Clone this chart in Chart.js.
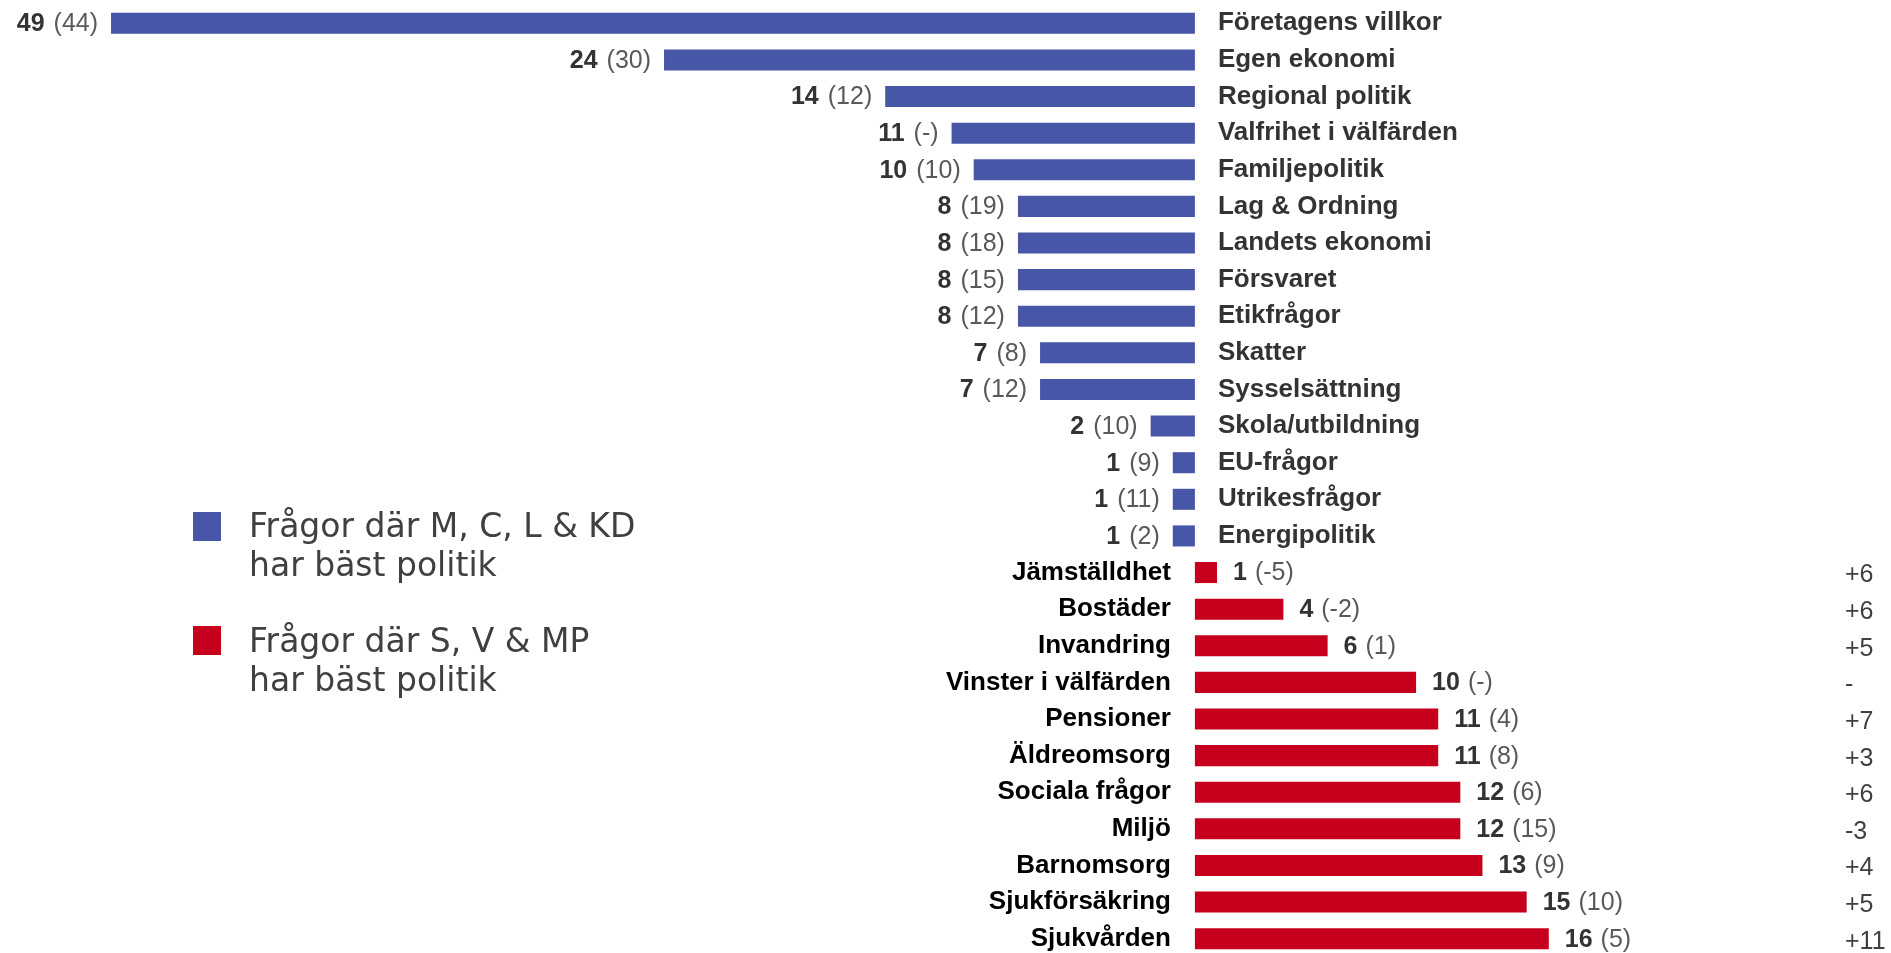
<!DOCTYPE html>
<html>
<head>
<meta charset="utf-8">
<script src="https://cdn.jsdelivr.net/npm/chart.js@4/dist/chart.umd.min.js"></script>
<style>
  html, body { margin: 0; padding: 0; overflow: hidden; background: #ffffff; }
  #wrap { position: absolute; left: 0; top: 0; width: 1891px; height: 957px; }
</style>
</head>
<body>
<div id="wrap"><canvas id="c"></canvas></div>
<script>
// ---- Data ----
const blueCategories = ["Företagens villkor", "Egen ekonomi", "Regional politik", "Valfrihet i välfärden", "Familjepolitik", "Lag & Ordning", "Landets ekonomi", "Försvaret", "Etikfrågor", "Skatter", "Sysselsättning", "Skola/utbildning", "EU-frågor", "Utrikesfrågor", "Energipolitik"];
const blueValues = [49, 24, 14, 11, 10, 8, 8, 8, 8, 7, 7, 2, 1, 1, 1];
const bluePrevious = ["44", "30", "12", "-", "10", "19", "18", "15", "12", "8", "12", "10", "9", "11", "2"];

const redCategories = ["Jämställdhet", "Bostäder", "Invandring", "Vinster i välfärden", "Pensioner", "Äldreomsorg", "Sociala frågor", "Miljö", "Barnomsorg", "Sjukförsäkring", "Sjukvården"];
const redValues = [1, 4, 6, 10, 11, 11, 12, 12, 13, 15, 16];
const redPrevious = ["-5", "-2", "1", "-", "4", "8", "6", "15", "9", "10", "5"];
const redChange = ["+6", "+6", "+5", "-", "+7", "+3", "+6", "-3", "+4", "+5", "+11"];

const legendBlue = ["Frågor där M, C, L & KD", "har bäst politik"];
const legendRed = ["Frågor där S, V & MP", "har bäst politik"];

// ---- Build chart data ----
const BLUE = "#4756A6";
const RED = "#C6001C";
const allCategories = blueCategories.concat(redCategories);
const blueData = blueValues.map(v => -v).concat(redCategories.map(() => null));
const redData = blueCategories.map(() => null).concat(redValues);

const labelPlugin = {
  id: 'customLabels',
  afterDatasetsDraw(chart) {
    const ctx = chart.ctx;
    const xs = chart.scales.x, ys = chart.scales.y;
    const x0 = xs.getPixelForValue(0);
    ctx.save();
    const nb = blueCategories.length;
    // Blue rows
    blueCategories.forEach((cat, i) => {
      const y = ys.getPixelForValue(i);
      ctx.textBaseline = 'middle';
      ctx.font = 'bold 26px "Liberation Sans", Arial, sans-serif';
      ctx.fillStyle = '#333333';
      ctx.textAlign = 'left';
      ctx.fillText(cat, x0 + 23, y);
      const xEnd = xs.getPixelForValue(-blueValues[i]);
      const paren = '(' + bluePrevious[i] + ')';
      ctx.font = '25px "Liberation Sans", Arial, sans-serif';
      const pw = ctx.measureText(paren).width;
      ctx.textAlign = 'right';
      ctx.fillStyle = '#595959';
      ctx.fillText(paren, xEnd - 13, y + 1);
      ctx.font = 'bold 25px "Liberation Sans", Arial, sans-serif';
      ctx.fillStyle = '#333333';
      ctx.fillText(String(blueValues[i]), xEnd - 13 - pw - 9, y + 1);
    });
    // Red rows
    redCategories.forEach((cat, j) => {
      const i = nb + j;
      const y = ys.getPixelForValue(i);
      ctx.textBaseline = 'middle';
      ctx.font = 'bold 26px "Liberation Sans", Arial, sans-serif';
      ctx.fillStyle = '#000000';
      ctx.textAlign = 'right';
      ctx.fillText(cat, x0 - 24, y);
      const xEnd = xs.getPixelForValue(redValues[j]);
      ctx.textAlign = 'left';
      ctx.font = 'bold 25px "Liberation Sans", Arial, sans-serif';
      ctx.fillStyle = '#333333';
      const vs = String(redValues[j]);
      const vw = ctx.measureText(vs).width;
      ctx.fillText(vs, xEnd + 16, y + 1);
      ctx.font = '25px "Liberation Sans", Arial, sans-serif';
      ctx.fillStyle = '#595959';
      ctx.fillText('(' + redPrevious[j] + ')', xEnd + 16 + vw + 8, y + 1);
      ctx.fillStyle = '#404040';
      ctx.fillText(redChange[j], 1845, y + 3);
    });
    // Legend
    ctx.textBaseline = 'alphabetic';
    ctx.textAlign = 'left';
    ctx.fillStyle = BLUE;
    ctx.fillRect(193, 512, 28, 29);
    ctx.fillStyle = RED;
    ctx.fillRect(193, 626, 28, 29);
    ctx.font = '33px "DejaVu Sans", Verdana, sans-serif';
    ctx.fillStyle = '#404040';
    ctx.fillText(legendBlue[0], 249, 537);
    ctx.fillText(legendBlue[1], 249, 576);
    ctx.fillText(legendRed[0], 249, 652);
    ctx.fillText(legendRed[1], 249, 691);
    ctx.restore();
  }
};

new Chart(document.getElementById('c'), {
  type: 'bar',
  data: {
    labels: allCategories,
    datasets: [
      { label: legendBlue.join(' '), data: blueData, backgroundColor: BLUE, barPercentage: 0.575, categoryPercentage: 1 },
      { label: legendRed.join(' '), data: redData, backgroundColor: RED, barPercentage: 0.575, categoryPercentage: 1 }
    ]
  },
  options: {
    indexAxis: 'y',
    responsive: true,
    maintainAspectRatio: false,
    animation: false,
    layout: { padding: { top: 5, bottom: 0, left: 0, right: 0 } },
    plugins: { legend: { display: false }, tooltip: { enabled: false } },
    scales: {
      x: { display: false, stacked: true, min: -54.02, max: 31.47, grid: { display: false } },
      y: { display: false, stacked: true, grid: { display: false } }
    }
  },
  plugins: [labelPlugin]
});
</script>
</body>
</html>
